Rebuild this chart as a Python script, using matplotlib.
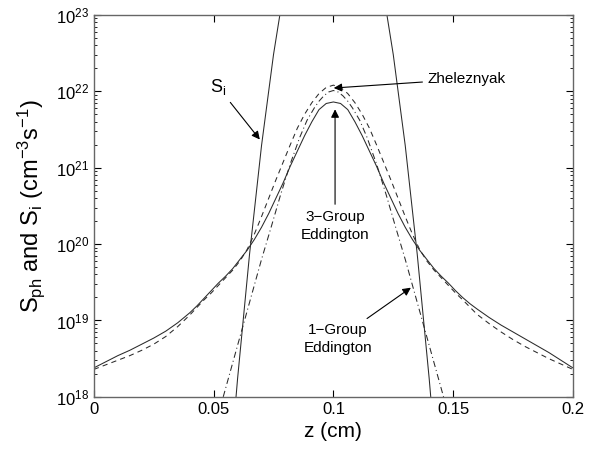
import matplotlib
matplotlib.use("Agg")
import matplotlib.pyplot as plt
import numpy as np

plt.rcParams['font.family'] = ['Liberation Sans', 'DejaVu Sans']
plt.rcParams['mathtext.fontset'] = 'custom'
plt.rcParams['mathtext.rm'] = 'Liberation Sans'
plt.rcParams['mathtext.it'] = 'Liberation Sans:italic'

# 3-Group Eddington (solid), log10 values
z_3g = [0.0, 0.005, 0.010, 0.015, 0.020, 0.025, 0.030, 0.035, 0.040, 0.043, 0.046,
        0.049, 0.052, 0.055, 0.058, 0.061, 0.064, 0.067, 0.070, 0.073, 0.076,
        0.079, 0.082, 0.085, 0.088, 0.091, 0.094, 0.097, 0.1,
        0.103, 0.106, 0.109, 0.112, 0.115, 0.118, 0.121, 0.124, 0.127, 0.130,
        0.133, 0.136, 0.139, 0.142, 0.145, 0.148, 0.151, 0.154, 0.157, 0.160,
        0.165, 0.170, 0.175, 0.180, 0.185, 0.190, 0.195, 0.2]
log_3g = [18.38, 18.46, 18.54, 18.61, 18.69, 18.77, 18.86, 18.97, 19.10, 19.19, 19.29,
          19.39, 19.49, 19.58, 19.68, 19.80, 19.92, 20.06, 20.22, 20.40, 20.60,
          20.80, 21.02, 21.22, 21.42, 21.60, 21.76, 21.84, 21.86,
          21.84, 21.76, 21.60, 21.42, 21.22, 21.02, 20.80, 20.60, 20.40, 20.22,
          20.06, 19.92, 19.80, 19.68, 19.58, 19.49, 19.39, 19.30, 19.22, 19.15,
          19.04, 18.94, 18.85, 18.76, 18.67, 18.58, 18.48, 18.38]

# Zheleznyak (dashed)
z_zh = [0.0, 0.005, 0.010, 0.015, 0.020, 0.025, 0.030, 0.035, 0.040, 0.046,
        0.049, 0.052, 0.055, 0.058, 0.061, 0.064, 0.067, 0.070, 0.073, 0.076,
        0.079, 0.082, 0.085, 0.088, 0.091, 0.094, 0.097, 0.1,
        0.103, 0.106, 0.109, 0.112, 0.115, 0.118, 0.121, 0.124, 0.127, 0.130,
        0.133, 0.136, 0.139, 0.142, 0.145, 0.148, 0.151, 0.154, 0.160,
        0.165, 0.170, 0.175, 0.180, 0.185, 0.190, 0.195, 0.2]
log_zh = [18.36, 18.42, 18.48, 18.54, 18.61, 18.69, 18.79, 18.92, 19.07, 19.27,
          19.36, 19.46, 19.56, 19.66, 19.78, 19.93, 20.13, 20.36, 20.60, 20.84,
          21.07, 21.30, 21.52, 21.70, 21.85, 21.97, 22.05, 22.08,
          22.05, 21.97, 21.85, 21.70, 21.52, 21.30, 21.07, 20.84, 20.60, 20.36,
          20.13, 19.93, 19.78, 19.66, 19.56, 19.46, 19.36, 19.27, 19.08,
          18.96, 18.85, 18.75, 18.66, 18.58, 18.50, 18.43, 18.36]

# 1-Group Eddington (dash-dot)
z_1g = [0.054, 0.058, 0.062, 0.066, 0.070, 0.074, 0.078, 0.082, 0.086, 0.089,
        0.092, 0.094, 0.096, 0.098, 0.1, 0.102, 0.104, 0.106, 0.108, 0.111,
        0.114, 0.118, 0.122, 0.126, 0.130, 0.134, 0.138, 0.142, 0.146]
log_1g = [18.0, 18.45, 18.9, 19.35, 19.8, 20.22, 20.65, 21.05, 21.4, 21.62,
          21.78, 21.87, 21.94, 21.99, 22.01, 21.99, 21.94, 21.87, 21.78, 21.62,
          21.4, 21.05, 20.65, 20.22, 19.8, 19.35, 18.9, 18.45, 18.0]

# S_i (solid, steep)
z_si = [0.055, 0.06, 0.065, 0.07, 0.075, 0.08, 0.085, 0.09, 0.1,
        0.11, 0.115, 0.12, 0.125, 0.13, 0.135, 0.14, 0.145]
log_si = [16.40, 18.24, 19.87, 21.29, 22.48, 23.46, 24.22, 24.77, 25.2,
          24.77, 24.22, 23.46, 22.48, 21.29, 19.87, 18.24, 16.40]

x_ticks = [0, 0.05, 0.1, 0.15, 0.2]
x_tick_labels = ['0', '0.05', '0.1', '0.15', '0.2']

fig = plt.figure(figsize=(5.98, 4.5), dpi=100)
ax = fig.add_axes([0.157, 0.118, 0.801, 0.849])

lc = '#2a2a2a'
ax.plot(z_3g, 10.0 ** np.array(log_3g), color=lc, lw=0.75, ls='-')
ax.plot(z_zh, 10.0 ** np.array(log_zh), color=lc, lw=0.75, ls=(0, (5, 4)))
ax.plot(z_1g, 10.0 ** np.array(log_1g), color=lc, lw=0.75, ls=(0, (6, 3, 1, 3)))
ax.plot(z_si, 10.0 ** np.array(log_si), color=lc, lw=0.75, ls='-')

ax.set_yscale('log')
ax.set_xlim(0, 0.2)
ax.set_ylim(1e18, 1e23)
ax.set_xticks(x_ticks)
ax.set_xticklabels(x_tick_labels)
ax.tick_params(which='both', direction='in', top=True, right=True, labelsize=12)
ax.tick_params(which='major', length=5)
ax.tick_params(which='minor', length=2.5)
for s in ax.spines.values():
    s.set_color('#666666')
    s.set_linewidth(1.0)

ax.set_xlabel('z (cm)', fontsize=15, labelpad=4)
ax.set_ylabel(r'$\mathregular{S_{ph}\ and\ S_i\ (cm^{-3}s^{-1})}$', fontsize=17, labelpad=6)

arrow = dict(arrowstyle='-|>', color='black', lw=0.8, mutation_scale=12)
ax.annotate(r'$\mathregular{S_i}$', xy=(0.0700, 10 ** 21.34), xytext=(0.0520, 10 ** 22.05),
            fontsize=13, ha='center', va='center', arrowprops=arrow)
ax.annotate('Zheleznyak', xy=(0.0990, 10 ** 22.04), xytext=(0.1395, 10 ** 22.16),
            fontsize=11, ha='left', va='center', arrowprops=arrow)
ax.annotate('3\u2212Group\nEddington', xy=(0.1007, 10 ** 21.8), xytext=(0.1007, 10 ** 20.24),
            fontsize=11, ha='center', va='center', linespacing=1.35, arrowprops=arrow)
ax.annotate('1\u2212Group\nEddington', xy=(0.1333, 10 ** 19.45), xytext=(0.1020, 10 ** 18.76),
            fontsize=11, ha='center', va='center', linespacing=1.35, arrowprops=arrow)

fig.savefig('out.png', dpi=100)
